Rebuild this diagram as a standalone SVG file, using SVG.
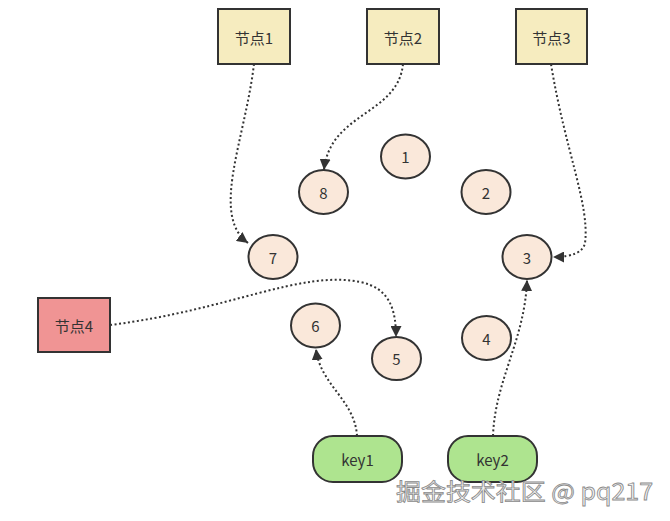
<svg xmlns="http://www.w3.org/2000/svg" width="670" height="521" viewBox="0 0 670 521">
<defs>
<marker id="arr" viewBox="0 0 10 10" refX="10" refY="5" markerWidth="11" markerHeight="11" markerUnits="userSpaceOnUse" orient="auto">
<path d="M0,0 L10,5 L0,10 Z" fill="#333"/>
</marker>
</defs>
<style>
text{font-family:"Noto Sans CJK SC","Liberation Sans",sans-serif;font-size:15px;fill:#333;text-anchor:middle;dominant-baseline:central}
.box{stroke:#333;stroke-width:2}
.y{fill:#f6ecbf}
.r{fill:#f09494}
.c{fill:#fae8da;stroke:#333;stroke-width:2}
.k{fill:#aee48f;stroke:#333;stroke-width:2}
.e{fill:none;stroke:#333;stroke-width:2;stroke-dasharray:2 2.5;marker-end:url(#arr)}
.wm{font-size:23px;fill:#f2f2f2;stroke:#8a8a8a;stroke-width:0.8;text-anchor:start;dominant-baseline:auto}
</style>
<rect width="670" height="521" fill="#fff"/>
<g id="edges">
<path class="e" d="M254,64 C245,140 210,215 248,243"/>
<path class="e" d="M403,64 C398,115 330,112 324,170"/>
<path class="e" d="M551,64 C565,150 590,205 585,243 Q582,257 553,257"/>
<path class="e" d="M110,325 C230,310 300,270 360,282 C390,288 396,310 396,337"/>
<path class="e" d="M357,436 C355,400 320,385 316,349"/>
<path class="e" d="M493,436 C495,380 525,340 527,280"/>
</g>
<g id="n1"><rect class="box y" x="218" y="9" width="72" height="55"/><text x="254" y="37">节点1</text></g>
<g id="n2"><rect class="box y" x="367" y="9" width="72" height="55"/><text x="403" y="37">节点2</text></g>
<g id="n3"><rect class="box y" x="516" y="9" width="71" height="55"/><text x="551.5" y="37">节点3</text></g>
<g id="n4"><rect class="box r" x="38" y="298" width="72" height="54"/><text x="74" y="325">节点4</text></g>
<g id="c1"><ellipse class="c" cx="405.5" cy="156.5" rx="24.5" ry="22"/><text x="405.5" y="156.5">1</text></g>
<g id="c2"><ellipse class="c" cx="486" cy="192" rx="24.5" ry="22"/><text x="486" y="192">2</text></g>
<g id="c3"><ellipse class="c" cx="527" cy="257" rx="24.5" ry="22"/><text x="527" y="257">3</text></g>
<g id="c4"><ellipse class="c" cx="486.5" cy="338" rx="24.5" ry="22"/><text x="486.5" y="338">4</text></g>
<g id="c5"><ellipse class="c" cx="396.5" cy="358.5" rx="24.5" ry="21.5"/><text x="396.5" y="358.5">5</text></g>
<g id="c6"><ellipse class="c" cx="315.5" cy="325.5" rx="24.5" ry="22"/><text x="315.5" y="325.5">6</text></g>
<g id="c7"><ellipse class="c" cx="273" cy="257" rx="24.5" ry="22"/><text x="273" y="257">7</text></g>
<g id="c8"><ellipse class="c" cx="323.5" cy="192" rx="24.5" ry="22"/><text x="323.5" y="192">8</text></g>
<g id="key1"><rect class="k" x="313" y="436" width="89" height="46" rx="20"/><text x="357.5" y="459">key1</text></g>
<g id="key2"><rect class="k" x="448" y="436" width="89" height="46" rx="20"/><text x="492.5" y="459">key2</text></g>
<text class="wm" x="396" y="500" textLength="257" lengthAdjust="spacingAndGlyphs">掘金技术社区 @ pq217</text>
</svg>
